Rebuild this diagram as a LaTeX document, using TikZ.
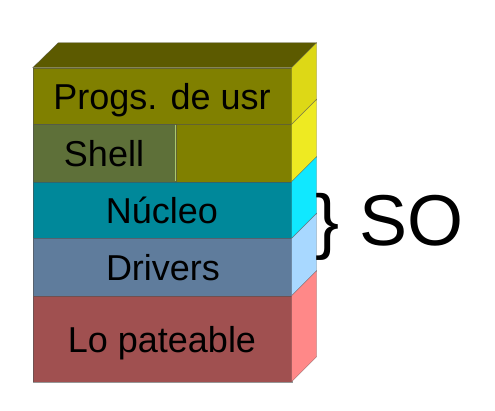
\documentclass[tikz,border=0pt]{standalone}
\usepackage{fontspec}
\setmainfont{Liberation Sans}
\definecolor{topface}{HTML}{5C5A00}
\definecolor{progsF}{HTML}{808000}
\definecolor{progsS}{HTML}{DDD816}
\definecolor{shellL}{HTML}{5E7039}
\definecolor{shellS}{HTML}{EEEA22}
\definecolor{nucF}{HTML}{00889A}
\definecolor{nucS}{HTML}{10E8FF}
\definecolor{drvF}{HTML}{5F7C9C}
\definecolor{drvS}{HTML}{A8D8FF}
\definecolor{loF}{HTML}{A05050}
\definecolor{loS}{HTML}{FF8888}
\definecolor{edge}{HTML}{505050}
\begin{document}
\begin{tikzpicture}[x=1pt,y=-1pt,
  face/.style={line width=0.4pt,draw=edge,draw opacity=0.6},
  lbl/.style={anchor=base,inner sep=0pt,font=\fontsize{36}{43}\selectfont},
  solbl/.style={anchor=base west,inner sep=0pt,font=\fontsize{72}{86}\selectfont}]
\useasboundingbox (0,0) rectangle (495,410);
% x positions
\def\xl{32.7}\def\xr{291.7}\def\xb{316.7}\def\dd{25}
\newcommand{\mylayer}[4]{%
  \fill[#3,face] (\xl,#1) rectangle (\xr,#2);
  \fill[#4,face] (\xr,#1) -- (\xb,#1-\dd) -- (\xb,#2-\dd) -- (\xr,#2) -- cycle;}
% top face
\fill[topface,face] (\xl,67.7) -- (58.3,42.7) -- (\xb,42.7) -- (\xr,67.7) -- cycle;
\mylayer{67.7}{124.3}{progsF}{progsS}
\mylayer{124.3}{181.7}{progsF}{shellS}
\fill[shellL,face] (\xl,124.3) rectangle (175.7,181.7);
\draw[line width=0.6pt,color={rgb,255:red,170;green,200;blue,110}] (175.7,124.6) -- (175.7,181.4);
\mylayer{181.7}{238.3}{nucF}{nucS}
\mylayer{238.3}{295.7}{drvF}{drvS}
\mylayer{295.7}{381.7}{loF}{loS}
% labels
\node[lbl] (progs) at (162,109) {Progs. de usr};
\node[lbl] (shell) at (104,166.7) {Shell};
\node[lbl] (nucleo) at (162,223.3) {Núcleo};
\node[lbl] (drivers) at (163,280) {Drivers};
\node[lbl] (lo) at (162,352.7) {Lo pateable};
\node[solbl] (so) at (315,245) {\} SO};
\end{tikzpicture}
\end{document}
